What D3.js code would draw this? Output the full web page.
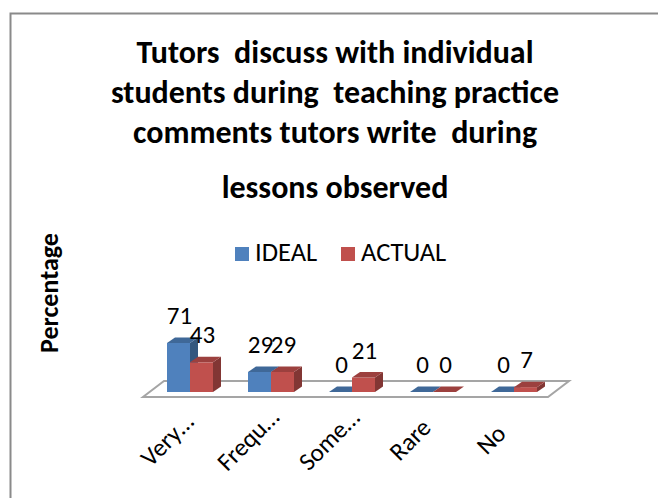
<!DOCTYPE html>
<html>
<head>
<meta charset="utf-8">
<script src="https://cdn.jsdelivr.net/npm/d3@7"></script>
<style>
  body { margin: 0; background: #fff; }
  svg text { font-family: Carlito, Calibri, Lato, sans-serif; fill: #000; white-space: pre; }
</style>
</head>
<body>
<div id="chart"></div>
<script>
// data
const categories = ["Very\u2026", "Frequ\u2026", "Some\u2026", "Rare", "No"];
const seriesNames = ["IDEAL", "ACTUAL"];
const ideal = [71, 29, 0, 0, 0];
const actual = [43, 29, 21, 0, 7];
const titleLines = ["Tutors  discuss with individual", "students during  teaching practice",
    "comments tutors write  during", "lessons observed"];
const yTitle = "Percentage";

const colors = {
    IDEAL: {front: "#4f81bd", top: "#3f6898", side: "#34577f"},
    ACTUAL: {front: "#c0504d", top: "#9c403e", side: "#823634"}
};

var width = 658, height = 498;

var svg = d3.select("#chart")
    .append("svg")
    .attr("width", width)
    .attr("height", height);

// chart area border (runs off the window on the right and bottom)
svg.append("path")
    .attr("d", "M10.5,600 V13.5 H700")
    .attr("fill", "none")
    .attr("stroke", "#8a8a8a")
    .attr("stroke-width", 2);

// title
svg.append("g")
    .selectAll("text")
    .data(titleLines)
    .enter()
    .append("text")
    .attr("x", 335)
    .attr("y", function(d, i) { return i < 3 ? 63 + i * 40 : 198; })
    .attr("text-anchor", "middle")
    .attr("font-size", 32)
    .attr("font-weight", "bold")
    .text(function(d) { return d; });

// axis title
svg.append("text")
    .attr("transform", "translate(58,293) rotate(-90)")
    .attr("text-anchor", "middle")
    .attr("font-size", 26)
    .attr("font-weight", "bold")
    .text(yTitle);

// legend
var legend = svg.append("g").attr("transform", "translate(235,247)");
var legendItems = legend.selectAll("g")
    .data(seriesNames)
    .enter()
    .append("g")
    .attr("transform", function(d, i) { return "translate(" + (i * 106) + ",0)"; });
legendItems.append("rect")
    .attr("width", 14)
    .attr("height", 14)
    .attr("fill", function(d) { return colors[d].front; });
legendItems.append("text")
    .attr("x", 20)
    .attr("y", 14)
    .attr("font-size", 26.5)
    .text(function(d) { return d; });

// scales
var x = d3.scaleBand()
    .domain(categories)
    .range([143, 548]);

var x1 = d3.scaleBand()
    .domain(seriesNames)
    .range([0, 46]);

var y = d3.scaleLinear()
    .domain([0, 100])
    .range([392, 323]);

var floorDepth = {dx: 21, dy: -16};
var barDepth = {dx: 8, dy: -5.5};
var barShift = 17.5 + 6.5;   // group centring + position inside the floor depth
var floorY = 397;

// floor
var fx0 = x.range()[0], fx1 = x.range()[1];
svg.append("path")
    .attr("d", "M" + fx0 + "," + floorY + " L" + fx1 + "," + floorY +
        " L" + (fx1 + floorDepth.dx) + "," + (floorY + floorDepth.dy) +
        " L" + (fx0 + floorDepth.dx) + "," + (floorY + floorDepth.dy) + " Z")
    .attr("fill", "#fff")
    .attr("stroke", "#a5a5a5")
    .attr("stroke-width", 2);

// bars
var rows = [];
categories.forEach(function(c, i) {
    rows.push({cat: c, series: "IDEAL", value: ideal[i]});
    rows.push({cat: c, series: "ACTUAL", value: actual[i]});
});

var bars = svg.append("g").selectAll("g")
    .data(rows)
    .enter()
    .append("g");

function poly(pts) {
    return "M" + pts.map(function(p) { return p.join(","); }).join(" L") + " Z";
}

bars.each(function(d) {
    var g = d3.select(this);
    var x0 = x(d.cat) + barShift + x1(d.series);
    var w = x1.bandwidth();
    var yb = y(0), yt = y(d.value);
    var dx = barDepth.dx, dy = barDepth.dy;
    var c = colors[d.series];
    if (d.value > 0) {
        g.append("path")
            .attr("d", poly([[x0, yt], [x0 + w, yt], [x0 + w, yb], [x0, yb]]))
            .attr("fill", c.front);
        g.append("path")
            .attr("d", poly([[x0 + w, yt], [x0 + w + dx, yt + dy], [x0 + w + dx, yb + dy], [x0 + w, yb]]))
            .attr("fill", c.side);
    }
    g.append("path")
        .attr("d", poly([[x0, yt], [x0 + dx, yt + dy], [x0 + w + dx, yt + dy], [x0 + w, yt]]))
        .attr("fill", c.top);
});

// value labels
bars.append("text")
    .attr("x", function(d) { return x(d.cat) + barShift + x1(d.series) + x1.bandwidth() / 2 + 1; })
    .attr("y", function(d) { return y(d.value) - 19; })
    .attr("text-anchor", "middle")
    .attr("font-size", 25)
    .text(function(d) { return d.value; });

// category labels, rotated, centred on a diagonal under each category
svg.append("g")
    .selectAll("text")
    .data(categories)
    .enter()
    .append("text")
    .attr("transform", function(d) {
        var cx = x(d) + x.bandwidth() / 2 - 10.5;
        return "translate(" + cx + ",445.5) rotate(-45)";
    })
    .attr("text-anchor", "middle")
    .attr("font-size", 25)
    .text(function(d) { return d; });
</script>
</body>
</html>
